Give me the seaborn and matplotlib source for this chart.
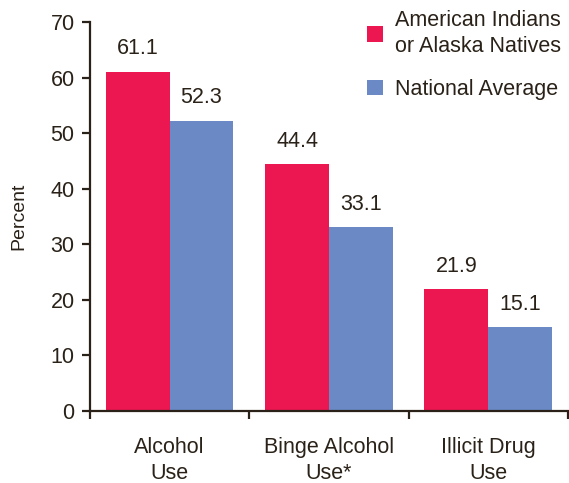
import matplotlib
matplotlib.use("Agg")
import matplotlib.pyplot as plt
import pandas as pd
import seaborn as sns

categories = ["Alcohol\nUse", "Binge Alcohol\nUse*", "Illicit Drug\nUse"]
groups = ["American Indians\nor Alaska Natives", "National Average"]
aian_values = [61.1, 44.4, 21.9]
national_values = [52.3, 33.1, 15.1]
y_ticks = [0, 10, 20, 30, 40, 50, 60, 70]

red = "#EC1651"
blue = "#6B8AC5"
ink = "#2A2218"
fs = 15.5

df = pd.DataFrame({
    "category": categories * 2,
    "group": [groups[0]] * 3 + [groups[1]] * 3,
    "value": aian_values + national_values,
})

sns.set_style("white")
plt.rcParams["font.family"] = ["Liberation Sans", "DejaVu Sans"]

fig = plt.figure(figsize=(5.69, 4.83), dpi=100)
ax = fig.add_axes([0.158, 0.149, 0.84, 0.805])

sns.barplot(data=df, x="category", y="value", hue="group",
            palette=[red, blue], width=0.8, saturation=1, linewidth=0,
            ax=ax)

for cont in ax.containers:
    ax.bar_label(cont, fmt="%.1f", padding=9, fontsize=fs, color=ink)

ax.set_ylim(0, 70)
ax.set_xlim(-0.5, 2.5)
ax.set_yticks(y_ticks)
ax.tick_params(axis="y", labelsize=fs, colors=ink, length=6, width=1.6,
               direction="out", left=True, pad=5)

# tick marks between the groups, labels at the centres
ax.set_xticks([-0.5, 0.5, 1.5, 2.5])
ax.set_xticklabels([])
ax.set_xticks([0, 1, 2], minor=True)
ax.set_xticklabels(categories, minor=True, fontsize=fs, color=ink,
                   linespacing=1.3)
ax.tick_params(axis="x", which="major", length=6, width=1.6, colors=ink,
               direction="out", bottom=True)
ax.tick_params(axis="x", which="minor", length=0, pad=19)

ax.set_xlabel("")
ax.set_ylabel("Percent", fontsize=14, color=ink, labelpad=17)

for side in ["top", "right"]:
    ax.spines[side].set_visible(False)
for side in ["left", "bottom"]:
    ax.spines[side].set_color(ink)
    ax.spines[side].set_linewidth(1.6)

leg = ax.legend(loc="upper right", bbox_to_anchor=(1.012, 1.065),
                frameon=False, fontsize=fs, handlelength=0.75,
                handleheight=0.75, handletextpad=0.55, labelspacing=1.0,
                labelcolor=ink, borderaxespad=0.2)
for t in leg.get_texts():
    t.set_linespacing(1.35)

fig.savefig("out.png", dpi=100)
